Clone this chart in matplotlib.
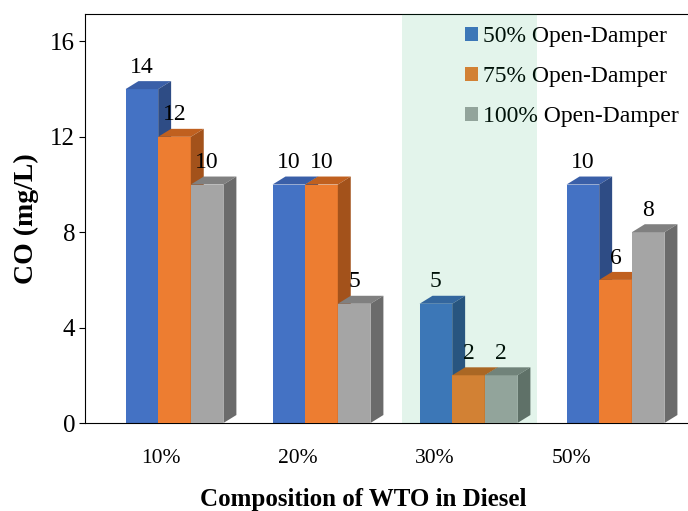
import matplotlib
matplotlib.use("Agg")
import matplotlib.pyplot as plt
from matplotlib.patches import Polygon, Patch
import numpy as np

plt.rcParams['font.family'] = ['Liberation Serif', 'DejaVu Serif']

categories = ["10%", "20%", "30%", "50%"]
series_names = ["50% Open-Damper", "75% Open-Damper", "100% Open-Damper"]
open_50 = [14, 10, 5, 10]
open_75 = [12, 10, 2, 6]
open_100 = [10, 5, 2, 8]

# front, top, side colours for each series
front_colors = ["#4472c4", "#ed7d31", "#a5a5a5"]
top_colors = ["#3a5fa8", "#c0601f", "#808080"]
side_colors = ["#2e4c85", "#a3521b", "#6b6b6b"]

fig = plt.figure(figsize=(6.88, 5.11), dpi=100)
ax = fig.add_axes([0.1235, 0.1722, 0.8765, 0.8004])

x = np.arange(len(categories))
w = 0.222
dx = 0.088   # depth offset in x (data units)
dy = 0.335   # depth offset in y (data units)

values = [open_50, open_75, open_100]
for i, vals in enumerate(values):
    x0 = x + (i - 1) * w - w / 2
    ax.bar(x0, vals, width=w, align='edge', color=front_colors[i],
           zorder=2 + i, linewidth=0)
    for xs, h in zip(x0, vals):
        top = Polygon([(xs, h), (xs + w, h), (xs + w + dx, h + dy), (xs + dx, h + dy)],
                      closed=True, facecolor=top_colors[i], linewidth=0, zorder=2 + i)
        side = Polygon([(xs + w, 0), (xs + w + dx, dy), (xs + w + dx, h + dy), (xs + w, h)],
                       closed=True, facecolor=side_colors[i], linewidth=0, zorder=2 + i)
        ax.add_patch(top)
        ax.add_patch(side)
        ax.text(xs + w / 2 + 0.0, h + dy + 0.14, str(h), ha='center', va='bottom',
                fontsize=17, zorder=6)

# highlighted 30% group
ax.axvspan(1.545, 2.463, color="#00a350", alpha=0.11, linewidth=0, zorder=10)

ax.set_xlim(-0.609, 3.493)
ax.set_ylim(0, 17.15)
ax.set_yticks([0, 4, 8, 12, 16])
# Excel-style perspective shifts the category labels a bit left of the bars
ax.set_xticks(x * 0.93 - 0.09)
ax.set_xticklabels(categories)
ax.tick_params(axis='x', length=0, pad=19, labelsize=15.5)
ax.tick_params(axis='y', length=4, labelsize=18, pad=3)
ax.spines['right'].set_visible(False)

ax.set_ylabel("CO (mg/L)", fontsize=20, fontweight='bold', labelpad=8)
ax.set_xlabel("Composition of WTO in Diesel", fontsize=18, fontweight='bold',
              labelpad=14, x=0.461)

handles = [Patch(facecolor=c, edgecolor='none') for c in front_colors]
leg = ax.legend(handles, series_names, loc='upper left', bbox_to_anchor=(0.630, 0.970),
                frameon=False, fontsize=17, handlelength=0.55, handleheight=0.55,
                handletextpad=0.2, labelspacing=0.8, borderaxespad=0, borderpad=0)
leg.set_zorder(5)

fig.savefig("out.png", dpi=100)
